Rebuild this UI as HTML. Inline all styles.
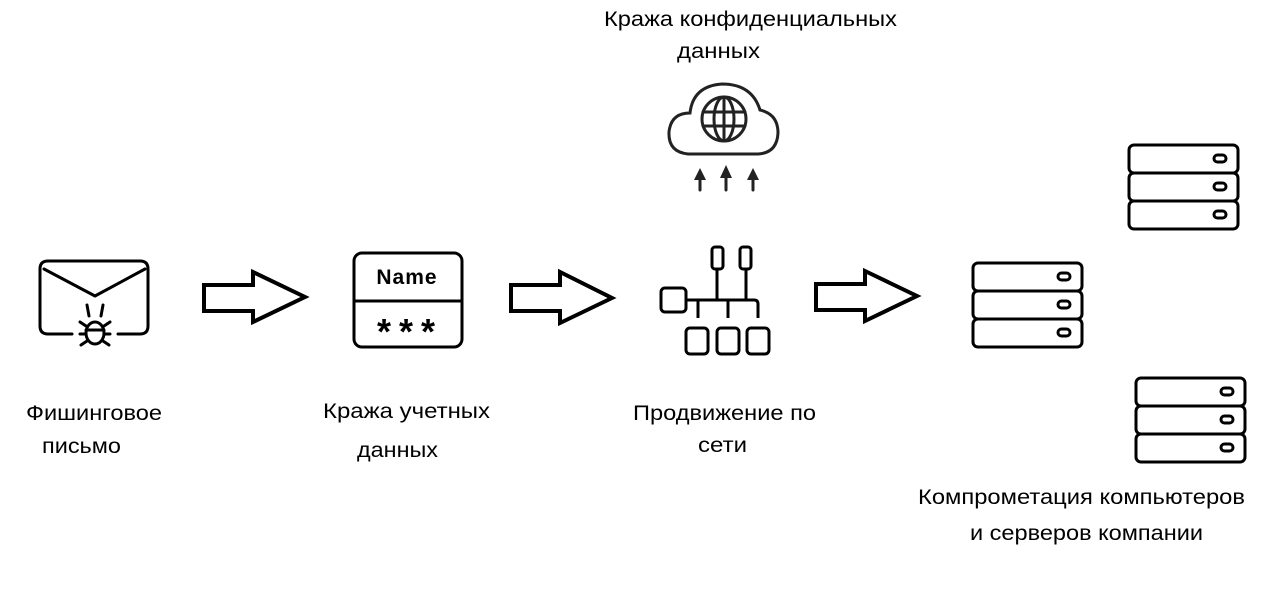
<!DOCTYPE html>
<html><head><meta charset="utf-8"><style>
html,body{margin:0;padding:0;background:#fff;}
svg{display:block}
text{font-family:"Liberation Sans",Arial,sans-serif;font-size:21px;fill:#000}
</style></head><body>
<svg width="1283" height="602" viewBox="0 0 1283 602" xmlns="http://www.w3.org/2000/svg">
<g fill="none" stroke="#000" stroke-width="3" stroke-linejoin="round" stroke-linecap="round">
<path d="M72 334 H48 Q40 334 40 326 V269 Q40 261 48 261 H140 Q148 261 148 269 V326 Q148 334 140 334 H118"/>
<path d="M44 269 L95 296 L145 269"/>
<path d="M87 305 L89 316 M103 305 L101 316"/>
<ellipse cx="95" cy="333" rx="9" ry="11"/>
<path d="M86 330 H104 M80 322 L86 326 M110 322 L104 326 M80 334 H86 M104 334 H110 M81 345 L87 341 M109 345 L103 341"/>
<rect x="354" y="253" width="108" height="94" rx="8"/>
<line x1="354" y1="301" x2="462" y2="301"/>
</g>
<text x="407" y="284" text-anchor="middle" style="font-size:21px;font-weight:bold;letter-spacing:1px">Name</text>
<text x="410" y="344" text-anchor="middle" style="font-size:36px;font-weight:bold;letter-spacing:8px">***</text>
<g fill="#fff" stroke="#000" stroke-width="4" stroke-linejoin="miter">
<path d="M204 285 H253 V272 L305 297 L253 322 V311 H204 Z"/>
<path d="M511 285 H560 V272 L612 298 L560 323 V311 H511 Z"/>
<path d="M816 284 H865 V271 L917 296 L865 321 V310 H816 Z"/>
</g>
<g fill="none" stroke="#222" stroke-width="3" stroke-linecap="round">
<path d="M688 154 Q668 152 669 132 Q671 113 690 113 Q693 86 722 84 Q752 84 760 110 Q778 114 778 133 Q777 153 758 154 Z"/>
<circle cx="724" cy="119" r="22"/>
<ellipse cx="724" cy="119" rx="10" ry="22"/>
<line x1="724" y1="97" x2="724" y2="141"/>
<line x1="703" y1="112" x2="745" y2="112"/>
<line x1="703" y1="126" x2="745" y2="126"/>
<line x1="700" y1="178" x2="700" y2="190"/>
<line x1="726" y1="176" x2="726" y2="190"/>
<line x1="753" y1="178" x2="753" y2="190"/>
</g>
<g fill="#222">
<path d="M694 180 L700 168 L706 180 Z"/>
<path d="M720 178 L726 165 L732 178 Z"/>
<path d="M747 180 L753 168 L759 180 Z"/>
</g>
<g fill="none" stroke="#000" stroke-width="3" stroke-linejoin="round">
<rect x="712" y="247" width="11" height="22" rx="3"/>
<rect x="740" y="247" width="11" height="22" rx="3"/>
<rect x="661" y="288" width="25" height="24" rx="4"/>
<path d="M686 300 H754 Q758 300 758 304 V318"/>
<path d="M717 269 V300 M746 269 V300 M698 300 V318 M728 300 V318"/>
<rect x="686" y="328" width="22" height="26" rx="4"/>
<rect x="717" y="328" width="22" height="26" rx="4"/>
<rect x="747" y="328" width="22" height="26" rx="4"/>
</g>
<g fill="none" stroke="#000" stroke-width="3">
<g transform="translate(1129,145)">
<rect x="0" y="0" width="109" height="28" rx="5"/><rect x="0" y="28" width="109" height="28" rx="5"/><rect x="0" y="56" width="109" height="28" rx="5"/>
<rect x="85" y="10" width="12" height="7" rx="3.5"/><rect x="85" y="38" width="12" height="7" rx="3.5"/><rect x="85" y="66" width="12" height="7" rx="3.5"/>
</g>
<g transform="translate(973,263)">
<rect x="0" y="0" width="109" height="28" rx="5"/><rect x="0" y="28" width="109" height="28" rx="5"/><rect x="0" y="56" width="109" height="28" rx="5"/>
<rect x="85" y="10" width="12" height="7" rx="3.5"/><rect x="85" y="38" width="12" height="7" rx="3.5"/><rect x="85" y="66" width="12" height="7" rx="3.5"/>
</g>
<g transform="translate(1136,378)">
<rect x="0" y="0" width="109" height="28" rx="5"/><rect x="0" y="28" width="109" height="28" rx="5"/><rect x="0" y="56" width="109" height="28" rx="5"/>
<rect x="85" y="10" width="12" height="7" rx="3.5"/><rect x="85" y="38" width="12" height="7" rx="3.5"/><rect x="85" y="66" width="12" height="7" rx="3.5"/>
</g>
</g>
<text x="26" y="420" textLength="136" lengthAdjust="spacingAndGlyphs">Фишинговое</text>
<text x="42" y="453" textLength="79" lengthAdjust="spacingAndGlyphs">письмо</text>
<text x="323" y="418" textLength="167" lengthAdjust="spacingAndGlyphs">Кража учетных</text>
<text x="357" y="457" textLength="81" lengthAdjust="spacingAndGlyphs">данных</text>
<text x="633" y="420" textLength="183" lengthAdjust="spacingAndGlyphs">Продвижение по</text>
<text x="698" y="452" textLength="49" lengthAdjust="spacingAndGlyphs">сети</text>
<text x="604" y="26" textLength="293" lengthAdjust="spacingAndGlyphs">Кража конфиденциальных</text>
<text x="677" y="58" textLength="83" lengthAdjust="spacingAndGlyphs">данных</text>
<text x="918" y="504" textLength="327" lengthAdjust="spacingAndGlyphs">Компрометация компьютеров</text>
<text x="970" y="540" textLength="233" lengthAdjust="spacingAndGlyphs">и серверов компании</text>
</svg>
</body></html>
